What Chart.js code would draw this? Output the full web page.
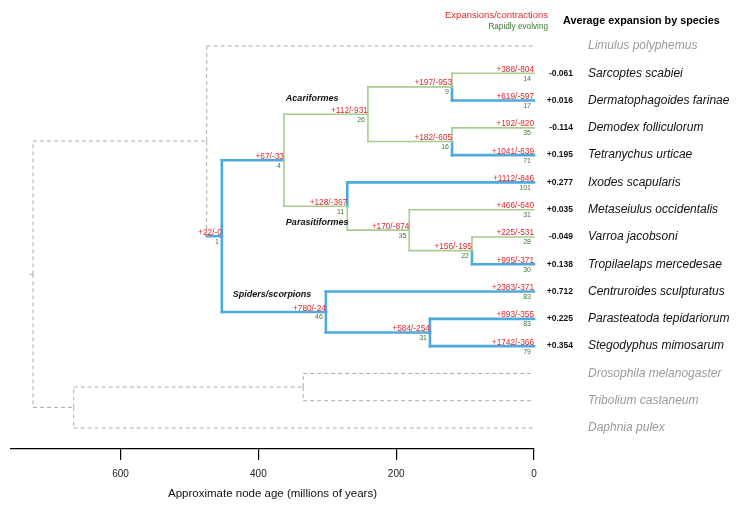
<!DOCTYPE html>
<html lang="en">
<head>
<meta charset="UTF-8">
<title>Gene family expansions and contractions</title>
<script src="https://cdn.jsdelivr.net/npm/chart.js"></script>
<style>
  html, body { margin: 0; padding: 0; background: #fff; }
  #wrap { width: 740px; height: 508px; }
</style>
</head>
<body>
<div id="wrap"><canvas id="tree"></canvas></div>
<script>
// tips, top to bottom
const tipNames = ['Limulus polyphemus', 'Sarcoptes scabiei', 'Dermatophagoides farinae', 'Demodex folliculorum',
  'Tetranychus urticae', 'Ixodes scapularis', 'Metaseiulus occidentalis', 'Varroa jacobsoni',
  'Tropilaelaps mercedesae', 'Centruroides sculpturatus', 'Parasteatoda tepidariorum', 'Stegodyphus mimosarum',
  'Drosophila melanogaster', 'Tribolium castaneum', 'Daphnia pulex'];
const tipParent = ['chel', 'sarc', 'sarc', 'tromb', 'tromb', 'parasit', 'meso', 'vt', 'vt', 'spid', 'aran', 'aran',
  'hexa', 'hexa', 'pancr'];
const tipAvg = [null, -0.061, 0.016, -0.114, 0.195, 0.277, 0.035, -0.049, 0.138, 0.712, 0.225, 0.354, null, null, null];
const tipGain = [null, 388, 619, 192, 1041, 1112, 466, 225, 995, 2383, 893, 1742, null, null, null];
const tipLoss = [null, 804, 597, 820, 639, 846, 640, 531, 371, 371, 355, 366, null, null, null];
const tipRapid = [null, 14, 17, 35, 71, 101, 31, 28, 30, 83, 83, 79, null, null, null];

// internal nodes, age in millions of years
const nodeNames = ['root', 'chel', 'arach', 'acari', 'acarif', 'sarc', 'tromb', 'parasit', 'meso', 'vt', 'spid', 'aran', 'pancr', 'hexa'];
const nodeParent = [null, 'root', 'chel', 'arach', 'acari', 'acarif', 'acarif', 'acari', 'parasit', 'meso', 'arach', 'spid', 'root', 'pancr'];
const nodeAge = [727, 475, 453, 363, 241, 119, 119, 271, 181, 90, 302, 151, 668, 335];
const nodeGain = [null, null, 22, 67, 112, 197, 182, 128, 170, 156, 780, 584, null, null];
const nodeLoss = [null, null, 0, 33, 931, 953, 605, 367, 874, 195, 24, 254, null, null];
const nodeRapid = [null, null, 1, 4, 26, 9, 16, 11, 35, 22, 46, 31, null, null];

const rootEdge = 5;
const axisTicks = [600, 400, 200, 0];
const xMax = 759;

const cladeNames = ['Acariformes', 'Parasitiformes', 'Spiders/scorpions'];
const cladeNodes = ['acarif', 'parasit', 'spid'];

const FONT = "'Liberation Sans', Arial, Helvetica, sans-serif";
const BLUE = '#4ea9dd';
const GREEN = '#a7cc8c';
const GREY = '#ababab';
const RED = '#e4262b';
const DKGREEN = '#3a7a2e';

// build the tree
const nodes = {};
nodeNames.forEach((id, i) => {
  nodes[id] = { id, parent: nodeParent[i], age: nodeAge[i], gain: nodeGain[i], loss: nodeLoss[i], rapid: nodeRapid[i], y: null };
});
tipNames.forEach((id, i) => {
  nodes[id] = { id, parent: tipParent[i], age: 0, gain: tipGain[i], loss: tipLoss[i], rapid: tipRapid[i], y: i + 1, tip: true, avg: tipAvg[i] };
});
const children = {};
Object.values(nodes).forEach(n => {
  if (n.parent) (children[n.parent] = children[n.parent] || []).push(n.id);
});
function yOf(id) {
  const n = nodes[id];
  if (n.y == null) {
    const c = children[id];
    n.y = c.reduce((s, k) => s + yOf(k), 0) / c.length;
  }
  return n.y;
}
yOf('root');

function edgeKind(n) {
  if (n.gain == null) return 'grey';
  return n.gain > n.loss ? 'blue' : 'green';
}
const styles = {
  grey: { borderColor: GREY, borderWidth: 1, borderDash: [4, 3] },
  green: { borderColor: GREEN, borderWidth: 1.6, borderDash: [] },
  blue: { borderColor: BLUE, borderWidth: 2.6, borderDash: [] }
};

// split each branch into its vertical part (at the parent) and horizontal part
const segments = [];
Object.values(nodes).forEach(n => {
  if (!n.parent) return;
  const p = nodes[n.parent];
  const kind = edgeKind(n);
  segments.push({ kind: p.gain == null ? 'grey' : kind, data: [{ x: p.age, y: p.y }, { x: p.age, y: n.y }] });
  segments.push({ kind, data: [{ x: p.age, y: n.y }, { x: n.age, y: n.y }] });
});
// little stub under the root
segments.push({ kind: 'grey', data: [{ x: nodes.root.age + rootEdge, y: nodes.root.y }, { x: nodes.root.age, y: nodes.root.y }] });

const datasets = [];
['grey', 'green', 'blue'].forEach(kind => {
  segments.filter(s => s.kind === kind).forEach(s => {
    datasets.push(Object.assign({
      data: s.data,
      showLine: true, pointRadius: 0, pointHoverRadius: 0, clip: false,
      borderCapStyle: kind === 'grey' ? 'butt' : 'square', tension: 0
    }, styles[kind]));
  });
});

const cladeOffsets = { 'Acariformes': [2, -16], 'Parasitiformes': [2, 16], 'Spiders/scorpions': [11, -18] };

const labelPlugin = {
  id: 'treeLabels',
  afterDatasetsDraw(chart) {
    const { ctx, chartArea } = chart;
    const xs = chart.scales.x, ys = chart.scales.y;
    ctx.save();

    // gains/losses and rapidly evolving counts on branches
    Object.values(nodes).forEach(n => {
      if (n.gain == null) return;
      const px = xs.getPixelForValue(n.age);
      const py = ys.getPixelForValue(n.y);
      ctx.textAlign = 'right';
      ctx.fillStyle = RED;
      ctx.font = '8.3px ' + FONT;
      ctx.textBaseline = 'alphabetic';
      ctx.fillText('+' + n.gain + '/-' + n.loss, px, py - 1.5);
      ctx.fillStyle = DKGREEN;
      ctx.font = '7px ' + FONT;
      ctx.textBaseline = 'top';
      ctx.fillText(String(n.rapid), px - 3, py + 2);
    });

    // tip names and average expansion
    tipNames.forEach((name, i) => {
      const n = nodes[name];
      const py = ys.getPixelForValue(n.y);
      ctx.textBaseline = 'middle';
      ctx.textAlign = 'left';
      ctx.font = 'italic 12px ' + FONT;
      ctx.fillStyle = n.gain == null ? '#9a9a9a' : '#111';
      ctx.fillText(name, chartArea.right + 54, py);
      if (n.avg != null) {
        ctx.textAlign = 'right';
        ctx.font = 'bold 8.5px ' + FONT;
        ctx.fillStyle = '#111';
        ctx.fillText((n.avg >= 0 ? '+' : '') + n.avg.toFixed(3), chartArea.right + 39, py);
      }
    });

    // clade names
    cladeNames.forEach((name, i) => {
      const n = nodes[cladeNodes[i]];
      const p = nodes[n.parent];
      const off = cladeOffsets[name];
      ctx.textAlign = 'left';
      ctx.textBaseline = 'middle';
      ctx.font = 'italic bold 9px ' + FONT;
      ctx.fillStyle = '#111';
      ctx.fillText(name, xs.getPixelForValue(p.age) + off[0], ys.getPixelForValue(n.y) + off[1]);
    });

    // header
    ctx.textAlign = 'right';
    ctx.textBaseline = 'middle';
    ctx.font = '9.5px ' + FONT;
    ctx.fillStyle = RED;
    ctx.fillText('Expansions/contractions', chartArea.right + 14, 15);
    ctx.font = '8.2px ' + FONT;
    ctx.fillStyle = DKGREEN;
    ctx.fillText('Rapidly evolving', chartArea.right + 14, 27);
    ctx.textAlign = 'left';
    ctx.font = 'bold 10.8px ' + FONT;
    ctx.fillStyle = '#000';
    ctx.fillText('Average expansion by species', chartArea.right + 29, 21);

    ctx.restore();
  }
};

new Chart(document.getElementById('tree'), {
  type: 'scatter',
  data: { datasets },
  options: {
    responsive: true,
    maintainAspectRatio: false,
    animation: false,
    events: [],
    layout: { padding: { left: 11, right: 206, top: 18.7, bottom: 0 } },
    plugins: { legend: { display: false }, tooltip: { enabled: false } },
    scales: {
      x: {
        type: 'linear',
        reverse: true,
        min: 0,
        max: xMax,
        afterBuildTicks: s => { s.ticks = axisTicks.map(v => ({ value: v })); },
        afterFit: s => { s.height = 59; },
        grid: { drawOnChartArea: false, drawTicks: true, tickLength: 11, color: '#000', lineWidth: 1.2 },
        border: { display: true, color: '#000', width: 1.3 },
        ticks: { color: '#222', padding: 8, maxRotation: 0, font: { size: 10, family: FONT } },
        title: {
          display: true,
          text: 'Approximate node age (millions of years)',
          color: '#111',
          padding: { top: 2, bottom: 7 },
          font: { size: 11.5, family: FONT }
        }
      },
      y: {
        type: 'linear',
        display: false,
        reverse: true,
        min: 0,
        max: 15.77
      }
    }
  },
  plugins: [labelPlugin]
});
</script>
</body>
</html>
